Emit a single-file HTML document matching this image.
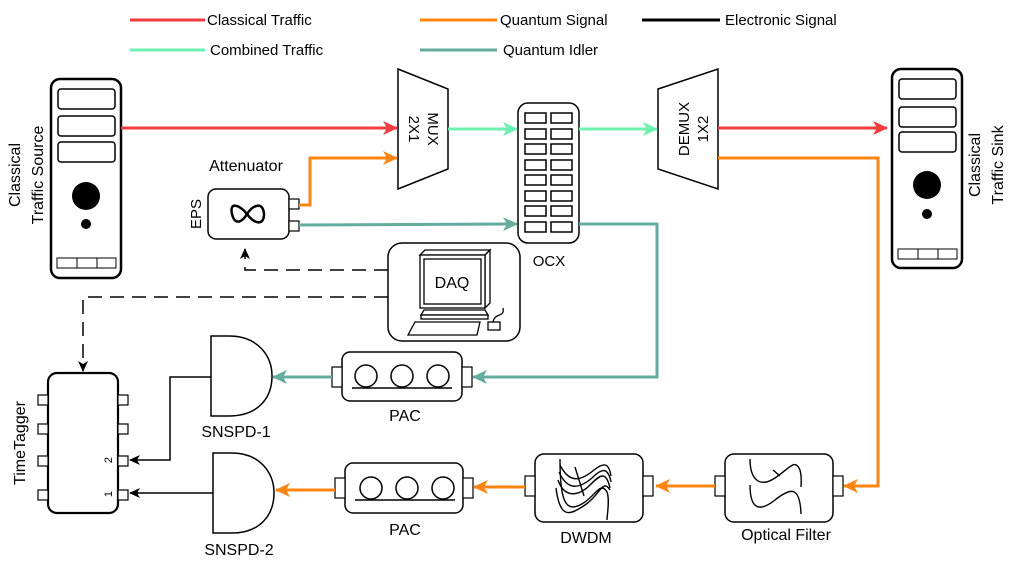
<!DOCTYPE html>
<html><head><meta charset="utf-8"><style>
html,body{margin:0;padding:0;background:#fff;}
svg{display:block;font-family:"Liberation Sans",Arial,sans-serif;}
</style></head><body>
<svg width="1009" height="568" viewBox="0 0 1009 568" xmlns="http://www.w3.org/2000/svg">
<defs>
<marker id="aR" markerUnits="userSpaceOnUse" markerWidth="16" markerHeight="16" refX="14" refY="8" orient="auto"><path d="M0,1 L15,8 L0,15 L4,8 Z" fill="#f03c3c"/></marker>
<marker id="aO" markerUnits="userSpaceOnUse" markerWidth="16" markerHeight="16" refX="14" refY="8" orient="auto"><path d="M0,1 L15,8 L0,15 L4,8 Z" fill="#ff8410"/></marker>
<marker id="aM" markerUnits="userSpaceOnUse" markerWidth="16" markerHeight="16" refX="14" refY="8" orient="auto"><path d="M0,1 L15,8 L0,15 L4,8 Z" fill="#6ef0b0"/></marker>
<marker id="aT" markerUnits="userSpaceOnUse" markerWidth="16" markerHeight="16" refX="14" refY="8" orient="auto"><path d="M0,1 L15,8 L0,15 L4,8 Z" fill="#64ad9e"/></marker>
<marker id="aK" markerUnits="userSpaceOnUse" markerWidth="12" markerHeight="12" refX="10" refY="6" orient="auto"><path d="M0,1 L11,6 L0,11 L3,6 Z" fill="#000"/></marker>
</defs>

<!-- legend -->
<g font-size="15">
<line x1="130" y1="20" x2="205" y2="20" stroke="#f03c3c" stroke-width="3"/><text x="207" y="25">Classical Traffic</text>
<line x1="420" y1="20" x2="497" y2="20" stroke="#ff8410" stroke-width="3"/><text x="500" y="25">Quantum Signal</text>
<line x1="642" y1="20" x2="720" y2="20" stroke="#000" stroke-width="3"/><text x="725" y="25">Electronic Signal</text>
<line x1="130" y1="50" x2="205" y2="50" stroke="#6ef0b0" stroke-width="3"/><text x="210" y="55">Combined Traffic</text>
<line x1="420" y1="50" x2="497" y2="50" stroke="#64ad9e" stroke-width="3"/><text x="503" y="55">Quantum Idler</text>
</g>

<!-- source server -->
<g stroke="#000" fill="none">
<rect x="51" y="79" width="70" height="199" rx="9" stroke-width="2.5"/>
<rect x="58" y="89" width="57" height="20" rx="3" stroke-width="1.5"/>
<rect x="58" y="116" width="57" height="20" rx="3" stroke-width="1.5"/>
<rect x="58" y="142" width="57" height="20" rx="3" stroke-width="1.5"/>
<rect x="57" y="258" width="59" height="10" stroke-width="1"/>
<line x1="77" y1="258" x2="77" y2="268" stroke-width="1"/><line x1="97" y1="258" x2="97" y2="268" stroke-width="1"/>
</g>
<circle cx="86" cy="196" r="14"/><circle cx="86" cy="224" r="5"/>
<g font-size="16">
<text transform="translate(20,175) rotate(-90)" text-anchor="middle">Classical</text>
<text transform="translate(43,175) rotate(-90)" text-anchor="middle">Traffic Source</text>
</g>

<!-- sink server -->
<g stroke="#000" fill="none">
<rect x="892" y="69" width="70" height="199" rx="9" stroke-width="2.5"/>
<rect x="899" y="79" width="57" height="20" rx="3" stroke-width="1.5"/>
<rect x="899" y="107" width="57" height="20" rx="3" stroke-width="1.5"/>
<rect x="899" y="132" width="57" height="20" rx="3" stroke-width="1.5"/>
<rect x="898" y="249" width="59" height="10" stroke-width="1"/>
<line x1="918" y1="249" x2="918" y2="259" stroke-width="1"/><line x1="938" y1="249" x2="938" y2="259" stroke-width="1"/>
</g>
<circle cx="927" cy="185" r="14"/><circle cx="927" cy="214" r="5"/>
<g font-size="16">
<text transform="translate(980,165) rotate(-90)" text-anchor="middle">Classical</text>
<text transform="translate(1003,165) rotate(-90)" text-anchor="middle">Traffic Sink</text>
</g>

<!-- MUX -->
<polygon points="398,69 448,89 448,169 398,189" fill="#fff" stroke="#000" stroke-width="1.5"/>
<g font-size="15"><text transform="translate(428,129) rotate(90)" text-anchor="middle">MUX</text>
<text transform="translate(409,129) rotate(90)" text-anchor="middle">2X1</text></g>
<!-- DEMUX -->
<polygon points="658,89 718,69 718,189 658,169" fill="#fff" stroke="#000" stroke-width="1.5"/>
<g font-size="15"><text transform="translate(689,129) rotate(-90)" text-anchor="middle">DEMUX</text>
<text transform="translate(708,129) rotate(-90)" text-anchor="middle">1X2</text></g>

<!-- OCX -->
<rect x="518" y="103" width="61" height="140" rx="10" fill="#fff" stroke="#000" stroke-width="1.5"/>
<g fill="none" stroke="#000" stroke-width="1.5">
<rect x="525" y="113" width="21" height="10"/><rect x="551" y="113" width="21" height="10"/>
<rect x="525" y="129" width="21" height="10"/><rect x="551" y="129" width="21" height="10"/>
<rect x="525" y="144" width="21" height="10"/><rect x="551" y="144" width="21" height="10"/>
<rect x="525" y="160" width="21" height="10"/><rect x="551" y="160" width="21" height="10"/>
<rect x="525" y="175" width="21" height="10"/><rect x="551" y="175" width="21" height="10"/>
<rect x="525" y="191" width="21" height="10"/><rect x="551" y="191" width="21" height="10"/>
<rect x="525" y="206" width="21" height="10"/><rect x="551" y="206" width="21" height="10"/>
<rect x="525" y="222" width="21" height="10"/><rect x="551" y="222" width="21" height="10"/>
</g>
<text x="549" y="266" font-size="15" text-anchor="middle">OCX</text>

<!-- EPS -->
<rect x="208" y="189" width="81" height="50" rx="8" fill="#fff" stroke="#000" stroke-width="1.5"/>
<rect x="289" y="199" width="10" height="10" fill="#fff" stroke="#000" stroke-width="1.2"/>
<rect x="289" y="221" width="10" height="10" fill="#fff" stroke="#000" stroke-width="1.2"/>
<path d="M247,214 C240,205 229,201 232,214 C235,227 243,221 247,214 C253,205 263,201 264,214 C264,227 253,223 247,214 Z" fill="none" stroke="#000" stroke-width="2.5"/>
<text transform="translate(201,214) rotate(-90)" font-size="15" text-anchor="middle">EPS</text>
<text x="246" y="171" font-size="16" text-anchor="middle">Attenuator</text>

<!-- connectors top -->
<line x1="121" y1="128" x2="397" y2="128" stroke="#f03c3c" stroke-width="3" marker-end="url(#aR)"/>
<polyline points="299,205 310,205 310,158 397,158" fill="none" stroke="#ff8410" stroke-width="3" marker-end="url(#aO)"/>
<line x1="448" y1="129" x2="517" y2="129" stroke="#6ef0b0" stroke-width="3" marker-end="url(#aM)"/>
<line x1="579" y1="129" x2="657" y2="129" stroke="#6ef0b0" stroke-width="3" marker-end="url(#aM)"/>
<line x1="718" y1="128" x2="887" y2="128" stroke="#f03c3c" stroke-width="3" marker-end="url(#aR)"/>
<polyline points="718,158 878,158 878,486 844,486" fill="none" stroke="#ff8410" stroke-width="3" marker-end="url(#aO)"/>
<line x1="299" y1="225" x2="517" y2="224" stroke="#64ad9e" stroke-width="3" marker-end="url(#aT)"/>
<polyline points="579,224 657,224 657,377 473,377" fill="none" stroke="#64ad9e" stroke-width="3" marker-end="url(#aT)"/>

<!-- dashed -->
<polyline points="388,270 245,270 245,249" fill="none" stroke="#000" stroke-width="1.5" stroke-dasharray="14,8" marker-end="url(#aK)"/>
<polyline points="388,297 83,297 83,371" fill="none" stroke="#000" stroke-width="1.5" stroke-dasharray="14,8" marker-end="url(#aK)"/>

<!-- DAQ -->
<rect x="388" y="243" width="132" height="98" rx="14" fill="#fff" stroke="#000" stroke-width="1.5"/>
<g fill="#fff" stroke="#000" stroke-width="1.3">
<polygon points="420,255 485,255 490,250 425,250"/>
<polygon points="485,255 490,250 490,303 485,308"/>
<rect x="420" y="255" width="65" height="53"/>
<rect x="424" y="259" width="57" height="45"/>
<polygon points="424,310 485,310 488,315 421,315"/>
<rect x="421" y="315" width="67" height="4"/>
<polygon points="415,322 480,322 477,335 408,335"/>
<rect x="488" y="322" width="12" height="8"/>
<path d="M493,322 C495,312 505,318 503,308" fill="none"/>
</g>
<text x="452" y="288" font-size="16" text-anchor="middle">DAQ</text>

<!-- PAC1 -->
<rect x="342" y="352" width="120" height="49" rx="8" fill="#fff" stroke="#000" stroke-width="1.5"/>
<rect x="332" y="367" width="10" height="20" fill="#fff" stroke="#000" stroke-width="1.2"/>
<rect x="462" y="367" width="10" height="20" fill="#fff" stroke="#000" stroke-width="1.2"/>
<g fill="none" stroke="#000" stroke-width="1.5"><circle cx="366" cy="376" r="11"/><circle cx="402" cy="376" r="11"/><circle cx="438" cy="376" r="11"/><line x1="352" y1="388" x2="452" y2="388"/></g>
<text x="405" y="421" font-size="16" text-anchor="middle">PAC</text>
<line x1="332" y1="377" x2="273" y2="377" stroke="#64ad9e" stroke-width="3" marker-end="url(#aT)"/>

<!-- PAC2 -->
<rect x="345" y="463" width="118" height="50" rx="8" fill="#fff" stroke="#000" stroke-width="1.5"/>
<rect x="335" y="478" width="10" height="20" fill="#fff" stroke="#000" stroke-width="1.2"/>
<rect x="463" y="478" width="10" height="20" fill="#fff" stroke="#000" stroke-width="1.2"/>
<g fill="none" stroke="#000" stroke-width="1.5"><circle cx="371" cy="488" r="11"/><circle cx="407" cy="488" r="11"/><circle cx="443" cy="488" r="11"/><line x1="355" y1="500" x2="455" y2="500"/></g>
<text x="405" y="535" font-size="16" text-anchor="middle">PAC</text>
<line x1="335" y1="490" x2="276" y2="490" stroke="#ff8410" stroke-width="3" marker-end="url(#aO)"/>

<!-- SNSPD -->
<path d="M211,336 L229,336 C258,336 272,356 272,376 C272,398 258,416 229,416 L211,416 Z" fill="#fff" stroke="#000" stroke-width="1.5"/>
<text x="236" y="437" font-size="16" text-anchor="middle">SNSPD-1</text>
<path d="M213,453 L232,453 C260,453 274,473 274,493 C274,515 260,533 232,533 L213,533 Z" fill="#fff" stroke="#000" stroke-width="1.5"/>
<text x="239" y="555" font-size="16" text-anchor="middle">SNSPD-2</text>
<polyline points="211,377 170,377 170,460 130,460" fill="none" stroke="#000" stroke-width="1.5" marker-end="url(#aK)"/>
<line x1="213" y1="493" x2="130" y2="493" stroke="#000" stroke-width="1.5" marker-end="url(#aK)"/>

<!-- TimeTagger -->
<rect x="48" y="373" width="70" height="140" rx="9" fill="#fff" stroke="#000" stroke-width="2.2"/>
<g fill="#fff" stroke="#000" stroke-width="1.2">
<rect x="38" y="395" width="10" height="10"/><rect x="38" y="424" width="10" height="10"/><rect x="38" y="456" width="10" height="10"/><rect x="38" y="490" width="10" height="10"/>
<rect x="118" y="395" width="10" height="10"/><rect x="118" y="424" width="10" height="10"/><rect x="118" y="456" width="10" height="10"/><rect x="118" y="490" width="10" height="10"/>
</g>
<text transform="translate(25,443) rotate(-90)" font-size="16" text-anchor="middle">TimeTagger</text>
<text transform="translate(112,460) rotate(-90)" font-size="11" text-anchor="middle">2</text>
<text transform="translate(112,494) rotate(-90)" font-size="11" text-anchor="middle">1</text>

<!-- DWDM -->
<rect x="535" y="454" width="108" height="68" rx="9" fill="#fff" stroke="#000" stroke-width="1.5"/>
<rect x="525" y="476" width="10" height="20" fill="#fff" stroke="#000" stroke-width="1.2"/>
<rect x="643" y="476" width="10" height="20" fill="#fff" stroke="#000" stroke-width="1.2"/>
<g fill="none" stroke="#000" stroke-width="1.4">
<path d="M560,459 C560,500 565,512 580,505 C595,498 600,480 607,492 C610,500 607,515 607,520"/>
<path d="M556,488 C560,520 570,515 585,505 C600,495 603,478 610,490"/>
<path d="M558,480 C565,500 580,495 590,485 C600,475 606,470 610,488"/>
<path d="M559,472 C568,492 580,488 592,478 C602,468 608,467 611,482"/>
<path d="M560,465 C570,485 582,480 594,470 C604,462 609,463 611,476"/>
<path d="M575,467 L584,496"/>
</g>
<text x="586" y="543" font-size="16" text-anchor="middle">DWDM</text>
<line x1="525" y1="487" x2="474" y2="487" stroke="#ff8410" stroke-width="3" marker-end="url(#aO)"/>

<!-- Optical Filter -->
<rect x="725" y="454" width="108" height="68" rx="9" fill="#fff" stroke="#000" stroke-width="1.5"/>
<rect x="715" y="476" width="10" height="20" fill="#fff" stroke="#000" stroke-width="1.2"/>
<rect x="833" y="476" width="10" height="20" fill="#fff" stroke="#000" stroke-width="1.2"/>
<g fill="none" stroke="#000" stroke-width="1.4">
<path d="M750,459 C750,480 760,488 775,478 C790,468 795,458 800,470 C802,478 801,485 801,487"/>
<path d="M750,485 C750,510 760,512 775,500 C790,488 800,485 801,514"/>
<path d="M773,470 L780,476"/>
</g>
<text x="786" y="540" font-size="16" text-anchor="middle">Optical Filter</text>
<line x1="715" y1="486" x2="656" y2="486" stroke="#ff8410" stroke-width="3" marker-end="url(#aO)"/>
</svg>
</body></html>
